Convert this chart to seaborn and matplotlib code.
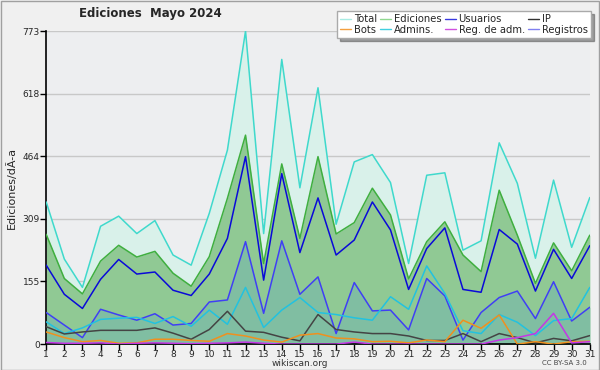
import numpy as np
import pandas as pd
import seaborn as sns
import matplotlib.pyplot as plt
from matplotlib.lines import Line2D

# data
days = list(range(1, 32))
total = [351, 210, 140, 291, 316, 273, 305, 220, 195, 323, 479, 773, 273, 703, 386, 633,
         296, 450, 468, 399, 199, 417, 423, 232, 255, 497, 397, 212, 405, 239, 362]
ediciones = [271, 162, 124, 205, 244, 215, 229, 175, 143, 216, 360, 516, 199, 445, 261, 463,
             272, 300, 385, 319, 161, 253, 302, 220, 179, 380, 269, 150, 250, 181, 269]
usuarios = [195, 123, 88, 160, 209, 173, 178, 133, 120, 173, 261, 463, 158, 421, 226, 361,
            220, 257, 351, 282, 135, 236, 287, 135, 128, 283, 247, 131, 234, 162, 243]
registros = [78, 47, 16, 86, 72, 59, 75, 47, 51, 104, 109, 253, 76, 255, 123, 166,
             26, 152, 82, 84, 35, 162, 119, 10, 78, 115, 131, 63, 154, 57, 91]
admins = [55, 26, 40, 61, 64, 66, 51, 68, 44, 84, 49, 140, 41, 84, 115, 78,
          73, 65, 59, 117, 86, 193, 125, 33, 26, 73, 54, 21, 58, 63, 140]
ip = [43, 25, 30, 34, 34, 34, 40, 27, 12, 36, 81, 32, 29, 17, 8, 73,
      36, 30, 26, 26, 20, 9, 9, 26, 6, 26, 16, 3, 14, 8, 21]
bots = [30, 16, 6, 9, 2, 3, 12, 12, 9, 7, 26, 20, 10, 5, 22, 26,
        15, 13, 6, 7, 3, 10, 6, 59, 39, 72, 0, 6, 0, 6, 7]
reg_adm = [4, 2, 2, 3, 0, 2, 3, 2, 1, 2, 3, 5, 2, 0, 0, 0,
           0, 5, 0, 0, 0, 0, 0, 0, 0, 10, 16, 26, 76, 3, 6]

yticks = [0, 155, 309, 464, 618, 773]

df = pd.DataFrame({'day': days, 'Total': total, 'Ediciones': ediciones,
                   'Usuarios': usuarios, 'Registros': registros, 'Admins.': admins,
                   'IP': ip, 'Bots': bots, 'Reg. de adm.': reg_adm})
long = df.melt(id_vars='day', var_name='serie', value_name='n')

line_colors = {'Total': '#3fd9cc', 'Ediciones': '#3faf3f', 'Usuarios': '#0a0ad8',
               'Registros': '#3f3ff5', 'Admins.': '#22c2e0', 'IP': '#444444',
               'Bots': '#f0901e', 'Reg. de adm.': '#c535e6'}
fills = {'Total': '#d9f1ea', 'Ediciones': '#90c994', 'Registros': '#80bea2'}

sns.set_style('white')
plt.rcParams['font.family'] = ['DejaVu Sans']

fig = plt.figure(figsize=(6, 3.7), dpi=100, facecolor='#f0f0f0')
ax = fig.add_axes([0.077, 0.07, 0.906, 0.846])
ax.set_facecolor('#edeef0')

for name in ['Total', 'Ediciones', 'Registros']:
    ax.fill_between(df['day'], df[name], color=fills[name], lw=0, zorder=1)

sns.lineplot(data=long, x='day', y='n', hue='serie', palette=line_colors,
             hue_order=['Total', 'Ediciones', 'Usuarios', 'Registros', 'Admins.', 'IP', 'Bots', 'Reg. de adm.'],
             linewidth=1.1, legend=False, ax=ax, zorder=3)

ax.set_xlim(1, 31)
ax.set_ylim(0, 773)
ax.set_xticks(days)
ax.set_yticks(yticks)
ax.set_yticks(np.arange(0, 773, 773 / 20), minor=True)
ax.tick_params(axis='both', labelsize=6.5, length=4, width=1, color='black', pad=0.5, direction='out')
ax.tick_params(axis='y', which='minor', length=3, width=1, color='black')
ax.tick_params(left=True, bottom=True)
ax.yaxis.grid(True, color='#c8c8c8', lw=1)
ax.set_axisbelow(True)
for s in ['top', 'right']:
    ax.spines[s].set_visible(False)
for s in ['left', 'bottom']:
    ax.spines[s].set_color('black')
    ax.spines[s].set_linewidth(1.2)
ax.set_xlabel('')
ax.set_ylabel('Ediciones/dÃ-a', fontsize=8, labelpad=4)

fig.text(0.25, 0.963, 'Ediciones  Mayo 2024', fontsize=8.5, fontweight='bold', ha='center', va='center')
fig.text(0.5, 0.018, 'wikiscan.org', fontsize=6.5, ha='center', va='center', color='#333333')
fig.text(0.978, 0.018, 'CC BY-SA 3.0', fontsize=5, ha='right', va='center', color='#444444')

leg_names = ['Total', 'Bots', 'Ediciones', 'Admins.', 'Usuarios', 'Reg. de adm.', 'IP', 'Registros']
leg_colors = ['#a8ece4', '#f4a040', '#90d890', '#40d0e0', '#3838e0', '#d050e0', '#333333', '#8080f0']
handles = [Line2D([], [], color=c, lw=1) for c in leg_colors]
leg = fig.legend(handles, leg_names, ncol=4, loc='upper right', bbox_to_anchor=(0.993, 0.983),
                 fontsize=7.2, frameon=True, fancybox=False, shadow=True, handlelength=1.1,
                 handletextpad=0.3, columnspacing=0.3, labelspacing=0.05, borderpad=0.3)
leg.get_frame().set_edgecolor('#aaaaaa')
leg.get_frame().set_facecolor('white')

fig.patches.append(plt.Rectangle((0.001, 0.001), 0.997, 0.997, transform=fig.transFigure,
                                 fill=False, edgecolor='#a0a0a0', lw=1))

fig.savefig('out.png', dpi=100, facecolor=fig.get_facecolor())
